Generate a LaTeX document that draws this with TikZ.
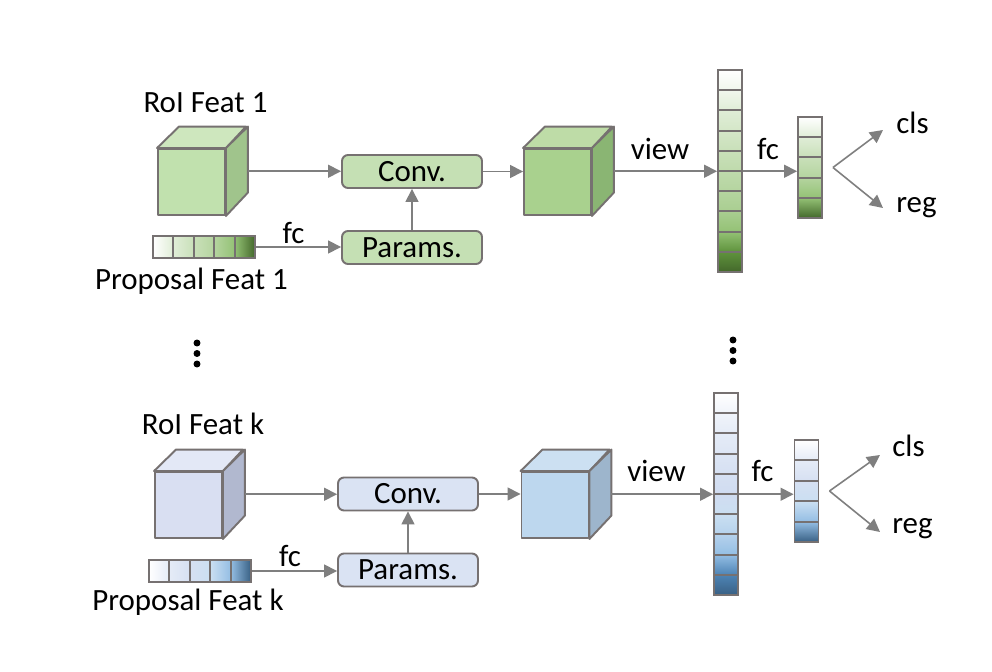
\documentclass[tikz,border=0pt]{standalone}
\usepackage{fontspec}
\setmainfont{Carlito}
\usetikzlibrary{arrows.meta}

\definecolor{edgegray}{RGB}{118,113,113}
\definecolor{arrgray}{RGB}{127,127,127}
\definecolor{gbase}{RGB}{112,173,71}
\definecolor{lbase}{RGB}{68,114,196}
\definecolor{bbase}{RGB}{91,155,213}
% green steps
\colorlet{g0}{white}
\colorlet{g1}{gbase!10!white}
\colorlet{g2}{gbase!22!white}
\colorlet{g3}{gbase!30!white}
\colorlet{g4}{gbase!38!white}
\colorlet{g5}{gbase!45!white}
\colorlet{g6}{gbase!52!white}
\colorlet{g7}{gbase!60!white}
\colorlet{g8}{gbase!75!white}
\colorlet{g9}{gbase!85!black}
\colorlet{g10}{gbase!60!black}
% blue steps
\colorlet{b0}{white}
\colorlet{b1}{lbase!8!white}
\colorlet{b2}{lbase!14!white}
\colorlet{b3}{lbase!18!white}
\colorlet{b4}{lbase!22!white}
\colorlet{b5}{lbase!25!white}
\colorlet{b6}{bbase!32!white}
\colorlet{b7}{bbase!45!white}
\colorlet{b8}{bbase!65!white}
\colorlet{b9}{bbase!85!black}
\colorlet{b10}{bbase!62!black}

\tikzset{
  face/.style={draw=edgegray, line width=1.1pt, line join=round},
  cubefront/.style={face, minimum width=1.34cm, minimum height=1.32cm, inner sep=0pt},
  opbox/.style={draw=edgegray, line width=1.1pt, rounded corners=0.12cm,
    minimum width=2.8cm, minimum height=0.66cm, inner sep=0pt},
  cellbox/.style={draw=edgegray, line width=1.1pt, inner sep=0pt},
  vcell/.style={cellbox, minimum width=0.48cm, minimum height=0.404cm},
  hcell/.style={cellbox, minimum width=0.408cm, minimum height=0.43cm},
  arr/.style={draw=arrgray, line width=0.9pt, -{Triangle[length=0.26cm,width=0.26cm]}},
  lbl/.style={anchor=base, inner sep=0pt},
}

% cube: name, position, front, top, side
\newcommand{\featcube}[5]{%
  \node[cubefront, fill=#3] (#1) at #2 {};
  \draw[face, fill=#4] (#1.north west) -- ++(0.44cm,0.43cm) -- ++(1.34cm,0pt) -- (#1.north east) -- cycle;
  \draw[face, fill=#5] (#1.north east) -- ++(0.44cm,0.43cm) -- ++(0pt,-1.32cm) -- (#1.south east) -- cycle;
  \coordinate (#1out) at ([shift={(0.44cm,0.215cm)}]#1.east);
}

\begin{document}
\begin{tikzpicture}[x=0.02cm, y=-0.02cm, font=\fontsize{17.6}{21}\selectfont]
\fill[white] (0,0) rectangle (992,672);
\useasboundingbox (0,0) rectangle (992,672);

% branch 1
\node[lbl] (roia) at (205.5,113) {RoI Feat 1};
\featcube{cubea}{(191.5,182)}{{rgb,255:red,193;green,225;blue,174}}{{rgb,255:red,206;green,231;blue,190}}{{rgb,255:red,160;green,196;blue,140}}
\foreach \i [evaluate=\i as \a using int(2*\i), evaluate=\i as \b using int(2*\i+2)] in {0,...,4}
  \node[hcell, left color=g\a, right color=g\b] (pa\i) at (163.2+20.4*\i,247) {};
\node[lbl] (propa) at (191.5,290) {Proposal Feat 1};
\node[opbox, fill={rgb,255:red,197;green,224;blue,180}] (conva) at (412,171.5) {Conv.};
\node[opbox, fill={rgb,255:red,197;green,224;blue,180}] (parama) at (412,247.5) {Params.};
\node[lbl] (fca) at (293.5,244) {fc};
\featcube{cubeb}{(557.5,182)}{{rgb,255:red,169;green,209;blue,142}}{{rgb,255:red,190;green,220;blue,167}}{{rgb,255:red,138;green,181;blue,115}}
\foreach \i [evaluate=\i as \j using int(\i+1)] in {0,...,9}
  \node[vcell, top color=g\i, bottom color=g\j] (ta\i) at (730,80.1+20.2*\i) {};
\foreach \i [evaluate=\i as \a using int(2*\i), evaluate=\i as \b using int(2*\i+2)] in {0,...,4}
  \node[vcell, top color=g\a, bottom color=g\b] (sa\i) at (810,127.1+20.2*\i) {};
\node[lbl] (viewa) at (660,160) {view};
\node[lbl] (fcb) at (768,160) {fc};
\coordinate (forka) at ([xshift=0.2cm]sa2.east);
\node[lbl, anchor=base west] (clsa) at (896,134) {cls};
\node[lbl, anchor=base west] (rega) at (896,213) {reg};
\coordinate (clsatip) at ([shift={(-0.26cm,0.08cm)}]clsa.base west);
\coordinate (regatip) at ([shift={(-0.26cm,0.1cm)}]rega.base west);

\draw[arr] (cubeaout) -- (cubeaout -| conva.west);
\draw[arr] (pa4.east) -- (pa4.east -| parama.west);
\draw[arr] (parama) -- (conva);
\draw[arr] (conva.east) -- (conva.east -| cubeb.west);
\draw[arr] (cubebout) -- (cubebout -| ta4.west);
\draw[arr] (cubebout -| ta4.east) -- (cubebout -| sa2.west);
\draw[arr] (forka) -- (clsatip);
\draw[arr] (forka) -- (regatip);

% dots
\node at (197,343) [circle,fill,inner sep=1.4pt]{};
\node at (197,353.5) [circle,fill,inner sep=1.4pt]{};
\node at (197,364) [circle,fill,inner sep=1.4pt]{};
\node at (733,340) [circle,fill,inner sep=1.4pt]{};
\node at (733,350.5) [circle,fill,inner sep=1.4pt]{};
\node at (733,361) [circle,fill,inner sep=1.4pt]{};

% branch k
\node[lbl] (roik) at (203,435) {RoI Feat k};
\featcube{cubec}{(188.5,505)}{{rgb,255:red,217;green,223;blue,242}}{{rgb,255:red,227;green,232;blue,246}}{{rgb,255:red,177;green,184;blue,207}}
\foreach \i [evaluate=\i as \a using int(2*\i), evaluate=\i as \b using int(2*\i+2)] in {0,...,4}
  \node[hcell, left color=b\a, right color=b\b] (pb\i) at (159.2+20.4*\i,571) {};
\node[lbl] (propk) at (188,611) {Proposal Feat k};
\node[opbox, fill={rgb,255:red,218;green,227;blue,243}] (convk) at (408,494) {Conv.};
\node[opbox, fill={rgb,255:red,218;green,227;blue,243}] (paramk) at (408,570) {Params.};
\node[lbl] (fck) at (290,567) {fc};
\featcube{cubed}{(555,505)}{{rgb,255:red,189;green,215;blue,238}}{{rgb,255:red,204;green,224;blue,242}}{{rgb,255:red,157;green,181;blue,204}}
\foreach \i [evaluate=\i as \j using int(\i+1)] in {0,...,9}
  \node[vcell, top color=b\i, bottom color=b\j] (tb\i) at (726,403.1+20.2*\i) {};
\foreach \i [evaluate=\i as \a using int(2*\i), evaluate=\i as \b using int(2*\i+2)] in {0,...,4}
  \node[vcell, top color=b\a, bottom color=b\b] (sb\i) at (806.5,450.2+20.4*\i) {};
\node[lbl] (viewk) at (656.5,482) {view};
\node[lbl] (fcl) at (762.5,482) {fc};
\coordinate (forkk) at ([xshift=0.2cm]sb2.east);
\node[lbl, anchor=base west] (clsk) at (892,457) {cls};
\node[lbl, anchor=base west] (regk) at (892,534) {reg};
\coordinate (clsktip) at ([shift={(-0.24cm,0.04cm)}]clsk.base west);
\coordinate (regktip) at ([shift={(-0.24cm,0.04cm)}]regk.base west);

\draw[arr] (cubecout) -- (cubecout -| convk.west);
\draw[arr] (pb4.east) -- (pb4.east -| paramk.west);
\draw[arr] (paramk) -- (convk);
\draw[arr] (convk.east) -- (convk.east -| cubed.west);
\draw[arr] (cubedout) -- (cubedout -| tb4.west);
\draw[arr] (cubedout -| tb4.east) -- (cubedout -| sb2.west);
\draw[arr] (forkk) -- (clsktip);
\draw[arr] (forkk) -- (regktip);
\end{tikzpicture}
\end{document}
